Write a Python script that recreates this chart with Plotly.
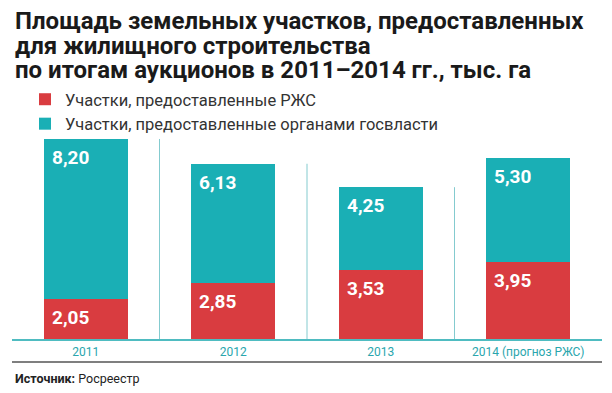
import plotly.graph_objects as go

categories = ["2011", "2012", "2013", "2014 (прогноз РЖС)"]
rzhs = [2.05, 2.85, 3.53, 3.95]
gov = [8.20, 6.13, 4.25, 5.30]
series_names = ["Участки, предоставленные РЖС", "Участки, предоставленные органами госвласти"]
title_lines = [
    "Площадь земельных участков, предоставленных",
    "для жилищного строительства",
    "по итогам аукционов в 2011–2014 гг., тыс. га",
]
source_label = "Источник:"
source_text = "Росреестр"

RED = "#d93c40"
TEAL = "#1aafb5"
OFF = 8  # page body margin
W, H = 612 - OFF, 393 - OFF
PLOT_L, PLOT_R, PLOT_T, PLOT_B = 12, 602, 130, 339  # in reference page pixels
ML, MR, MT, MB = PLOT_L - OFF, W - (PLOT_R - OFF), PLOT_T - OFF, H - (PLOT_B - OFF)
plot_h = PLOT_B - PLOT_T
plot_w = PLOT_R - PLOT_L


def fmt(v):
    return f"{v:.2f}".replace(".", ",")


def py(px):
    return (PLOT_B - px) / plot_h


def pxx(px):
    return (px - PLOT_L) / plot_w


xpos = list(range(len(categories)))

fig = go.Figure()
fig.add_trace(go.Bar(x=xpos, y=rzhs, name=series_names[0], marker=dict(color=RED, line=dict(width=0))))
fig.add_trace(go.Bar(x=xpos, y=gov, name=series_names[1], marker=dict(color=TEAL, line=dict(width=0))))

totals = [a + b for a, b in zip(rzhs, gov)]

for i in range(len(categories) - 1):
    fig.add_shape(type="line", xref="x", yref="y", x0=i + 0.5, x1=i + 0.5, y0=0, y1=totals[i],
                  line=dict(color="#84cbcf", width=1), layer="below")

annots = []
for i in xpos:
    for base, v in ((0, rzhs[i]), (rzhs[i], gov[i])):
        annots.append(dict(x=i, y=base + v, xref="x", yref="y", text=f"<b>{fmt(v)}</b>",
                           showarrow=False, xanchor="left", yanchor="top", xshift=-36, yshift=-5,
                           font=dict(family="Roboto", size=19, color="white")))

for k, line in enumerate(title_lines):
    annots.append(dict(x=pxx(13), y=py(21.5 + 24 * k), xref="paper", yref="paper", text=f"<b>{line}</b>",
                       showarrow=False, xanchor="left", yanchor="middle",
                       font=dict(family="Roboto", size=24, color="#1a1a1a")))

annots.append(dict(x=pxx(13), y=py(378), xref="paper", yref="paper",
                   text=f"<b>{source_label}</b> {source_text}", showarrow=False,
                   xanchor="left", yanchor="middle", font=dict(family="Roboto", size=12.5, color="#222")))

fig.add_shape(type="line", xref="paper", yref="paper", x0=0, x1=1, y0=py(362), y1=py(362),
              line=dict(color="#555", width=1.3))

fig.update_layout(
    width=W, height=H,
    margin=dict(l=ML, r=MR, t=MT, b=MB),
    paper_bgcolor="white", plot_bgcolor="white",
    barmode="stack", bargap=0.43,
    showlegend=True,
    legend=dict(x=pxx(25), y=py(82), xanchor="left", yanchor="top", traceorder="normal",
                font=dict(family="Roboto", size=16.5, color="#333"), bgcolor="rgba(0,0,0,0)"),
    annotations=annots,
    xaxis=dict(range=[-0.5, len(categories) - 0.5], tickmode="array", tickvals=xpos, ticktext=categories,
               showline=True, linecolor="#4fbcc1", linewidth=1.5, ticks="", showgrid=False, zeroline=False,
               tickfont=dict(family="Roboto", size=12, color="#2aa6ad"), ticklabelstandoff=1,
               fixedrange=True),
    yaxis=dict(range=[0, 10.71], visible=False, showgrid=False, fixedrange=True),
)

fig.write_html("out.html")
